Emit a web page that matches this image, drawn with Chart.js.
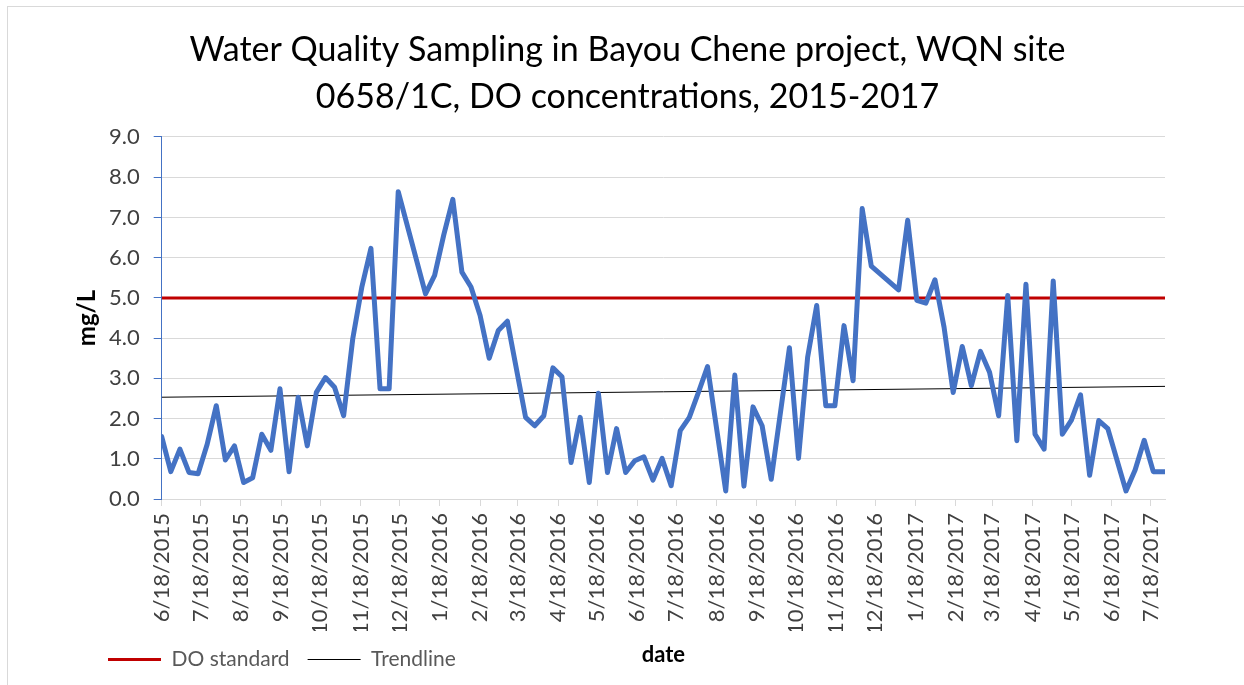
<!DOCTYPE html>
<html>
<head>
<meta charset="utf-8">
<script src="https://cdn.jsdelivr.net/npm/chart.js@4.4.1/dist/chart.umd.min.js"></script>
<style>
  html, body { margin: 0; padding: 0; background: #fff; overflow: hidden; }
  #frame { position: absolute; left: 7px; top: 6px; width: 1260px; height: 700px; border: 1px solid #d9d9d9; }
  #wrap { position: absolute; left: 0; top: 0; width: 1244px; height: 685px; }
</style>
</head>
<body>
<div id="frame"></div>
<div id="wrap"><canvas id="chart"></canvas></div>
<script>
// ===================== DATA ===================== //
// sample days counted from 6/18/2015
const sampleDays = [
  0, 7, 14, 21, 28, 35, 42, 49, 56, 63,
  70, 77, 84, 91, 98, 105, 112, 119, 126, 133,
  140, 147, 154, 161, 168, 175, 182, 203, 210, 217,
  224, 231, 238, 245, 252, 259, 266, 280, 287, 294,
  301, 308, 315, 322, 329, 336, 343, 350, 357, 364,
  371, 378, 385, 392, 399, 406, 413, 420, 434, 441,
  448, 455, 462, 469, 483, 490, 497, 504, 511, 518,
  525, 532, 539, 546, 567, 574, 581, 588, 595, 602,
  609, 616, 623, 630, 637, 644, 651, 658, 665, 672,
  679, 686, 693, 700, 707, 714, 721, 728, 742, 749,
  756, 763, 772
];

// DO concentrations, mg/L
const doValues = [
  1.55, 0.68, 1.24, 0.66, 0.63, 1.36, 2.32, 0.97, 1.32, 0.41,
  0.53, 1.61, 1.21, 2.74, 0.68, 2.53, 1.32, 2.65, 3.02, 2.78,
  2.07, 3.98, 5.27, 6.23, 2.74, 2.74, 7.64, 5.10, 5.56, 6.56,
  7.45, 5.64, 5.27, 4.56, 3.50, 4.19, 4.42, 2.03, 1.82, 2.07,
  3.26, 3.04, 0.91, 2.03, 0.41, 2.63, 0.66, 1.75, 0.66, 0.95,
  1.05, 0.47, 1.01, 0.33, 1.70, 2.03, 2.65, 3.29, 0.20, 3.08,
  0.32, 2.29, 1.82, 0.49, 3.76, 1.01, 3.52, 4.81, 2.32, 2.32,
  4.31, 2.94, 7.22, 5.79, 5.20, 6.93, 4.94, 4.87, 5.45, 4.27,
  2.65, 3.79, 2.82, 3.67, 3.15, 2.07, 5.06, 1.45, 5.34, 1.61,
  1.24, 5.42, 1.61, 1.96, 2.59, 0.59, 1.95, 1.75, 0.20, 0.72,
  1.46, 0.68, 0.68
];

const doStandard = 5.0;
const trendValues = [2.53, 2.80]; // at first and last sample

const tickLabels = [
  '6/18/2015', '7/18/2015', '8/18/2015', '9/18/2015', '10/18/2015', '11/18/2015',
  '12/18/2015', '1/18/2016', '2/18/2016', '3/18/2016', '4/18/2016', '5/18/2016',
  '6/18/2016', '7/18/2016', '8/18/2016', '9/18/2016', '10/18/2016', '11/18/2016',
  '12/18/2016', '1/18/2017', '2/18/2017', '3/18/2017', '4/18/2017', '5/18/2017',
  '6/18/2017', '7/18/2017'
];

// ===================== HELPERS ===================== //
const START = Date.UTC(2015, 5, 18);
function dayOf(label) {
  const [m, d, y] = label.split('/').map(Number);
  return (Date.UTC(y, m - 1, d) - START) / 86400000;
}

const firstDay = sampleDays[0];
const lastDay = sampleDays[sampleDays.length - 1];

Chart.defaults.font.family = 'Lato';

// ===================== CHART ===================== //
const ctx = document.getElementById('chart').getContext('2d');
new Chart(ctx, {
  type: 'line',
  data: {
    datasets: [
      {
        label: 'DO',
        data: sampleDays.map((d, i) => ({ x: d, y: doValues[i] })),
        borderColor: '#4472C4',
        borderWidth: 5,
        borderJoinStyle: 'round',
        borderCapStyle: 'round',
        pointRadius: 0,
        tension: 0
      },
      {
        label: 'DO standard',
        data: [{ x: firstDay, y: doStandard }, { x: lastDay, y: doStandard }],
        borderColor: '#C00000',
        backgroundColor: '#C00000',
        borderWidth: 3,
        pointRadius: 0,
        pointStyle: 'line'
      },
      {
        label: 'Trendline',
        data: [{ x: firstDay, y: trendValues[0] }, { x: lastDay, y: trendValues[1] }],
        borderColor: '#000000',
        backgroundColor: '#000000',
        borderWidth: 1,
        pointRadius: 0,
        pointStyle: 'line'
      }
    ]
  },
  options: {
    responsive: true,
    maintainAspectRatio: false,
    animation: false,
    layout: { padding: { left: 90, right: 79, top: 0, bottom: 5 } },
    plugins: {
      title: {
        display: true,
        text: ['Water Quality Sampling in Bayou Chene project, WQN site', '0658/1C, DO concentrations, 2015-2017'],
        color: '#000',
        font: { size: 34, weight: 'normal', lineHeight: 1.382 },
        padding: { top: 26.5, bottom: 16.5 }
      },
      legend: {
        position: 'bottom',
        align: 'start',
        labels: {
          usePointStyle: true,
          pointStyleWidth: 53,
          padding: 18,
          color: '#595959',
          font: { size: 21 },
          sort: (a, b) => a.datasetIndex - b.datasetIndex,
          filter: item => item.text !== 'DO'
        }
      },
      tooltip: { enabled: false }
    },
    scales: {
      x: {
        type: 'linear',
        min: firstDay,
        max: lastDay,
        afterBuildTicks: scale => {
          scale.ticks = tickLabels.map(l => ({ value: dayOf(l) }));
        },
        afterFit: scale => { scale.height = 132; },
        ticks: {
          autoSkip: false,
          maxRotation: 90,
          minRotation: 90,
          padding: 7,
          color: '#404040',
          font: { size: 22 },
          callback: (v, i) => tickLabels[i]
        },
        grid: { drawOnChartArea: false, tickLength: 7, color: '#d9d9d9' },
        border: { color: '#d9d9d9' },
        title: {
          display: true,
          text: 'date',
          color: '#000',
          font: { size: 22, weight: 'bold', lineHeight: 1.2 },
          padding: { top: 0, bottom: -37.2 }
        }
      },
      y: {
        min: 0,
        max: 9,
        afterFit: scale => { scale.width = 71.7; },
        ticks: {
          stepSize: 1,
          padding: 14,
          color: '#404040',
          font: { size: 22 },
          callback: v => v.toFixed(1)
        },
        grid: { color: '#d9d9d9', tickColor: '#4472C4', tickLength: 8 },
        border: { color: '#4472C4' },
        title: {
          display: true,
          text: 'mg/L',
          color: '#000',
          font: { size: 24, weight: 'bold', lineHeight: 1.2 },
          padding: { top: -17.4, bottom: 0 }
        }
      }
    }
  }
});
</script>
</body>
</html>
